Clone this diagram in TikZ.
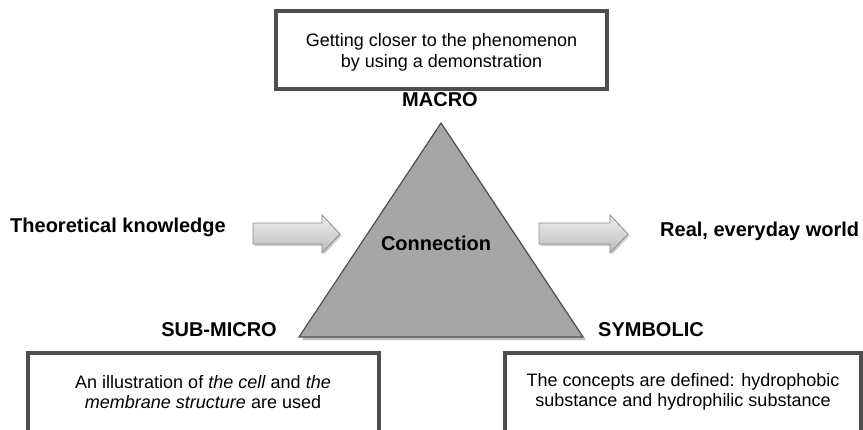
\documentclass[tikz,border=0pt]{standalone}
\usepackage{fontspec}
\setmainfont{Liberation Sans}
\usetikzlibrary{shadows}
\definecolor{boxline}{HTML}{4E4E4E}
\definecolor{trifill}{HTML}{A6A6A6}
\definecolor{triline}{HTML}{505050}
\definecolor{arrtop}{HTML}{EDEDED}
\definecolor{arrbot}{HTML}{BDBDBD}
\definecolor{arrline}{HTML}{8C8C8C}
\tikzset{
  textbox/.style={draw=boxline, line width=4pt, fill=white,
    drop shadow={shadow xshift=1.5pt, shadow yshift=-1.5pt, opacity=0.3}},
  boxtext/.style={align=center, font=\fontsize{18}{20.5}\selectfont, inner sep=0pt},
  lab/.style={font=\fontsize{20}{23}\bfseries\selectfont, inner sep=0pt},
  blockarrow/.style={draw=arrline, line width=0.8pt, top color=arrtop, bottom color=arrbot,
    drop shadow={shadow xshift=1.5pt, shadow yshift=-2pt, opacity=0.4}},
}
\begin{document}
\begin{tikzpicture}[x=1pt, y=-1pt]
\useasboundingbox (0,0) rectangle (863,429);
\begin{scope}
\clip (0,0) rectangle (863,429);
% top box
\draw[textbox] (276,11) rectangle (607,89);
\node[boxtext] (top) at (441.5,52.5) {Getting closer to the phenomenon\\by using a demonstration};
% bottom boxes
\draw[textbox] (28,353) rectangle (379,450);
\node[boxtext] (left) at (203,392) {An illustration of \textit{the cell} and \textit{the}\\\textit{membrane structure} are used};
\draw[textbox] (505,353) rectangle (861,450);
\node[boxtext] (right) at (683,392) {The concepts are defined: hydrophobic\\substance and hydrophilic substance};
% triangle
\fill[black, opacity=0.25] (443,125) -- (586,340) -- (302,340) -- cycle;
\draw[triline, line width=1.2pt, fill=trifill] (441,123) coordinate (apex) -- (583,337) coordinate (br) -- (299,337) coordinate (bl) -- cycle;
\node[lab] (conn) at (436,243) {Connection};
% labels
\node[lab] (macro) at (440,100) {MACRO};
\node[lab, anchor=east] (sub) at (277,330) {SUB-MICRO};
\node[lab, anchor=west] (sym) at (598,330) {SYMBOLIC};
\node[lab, anchor=west] (theo) at (10,227) {Theoretical knowledge};
\node[lab, anchor=west] (real) at (660,231) {Real, everyday world};
% block arrows
\path[blockarrow] (253,223) -- (322,223) -- (322,215) -- (340,234) -- (322,253) -- (322,244) -- (253,244) -- cycle;
\path[blockarrow] (539,223) -- (610,223) -- (610,215) -- (628,234) -- (610,253) -- (610,244) -- (539,244) -- cycle;
\end{scope}
\end{tikzpicture}
\end{document}
